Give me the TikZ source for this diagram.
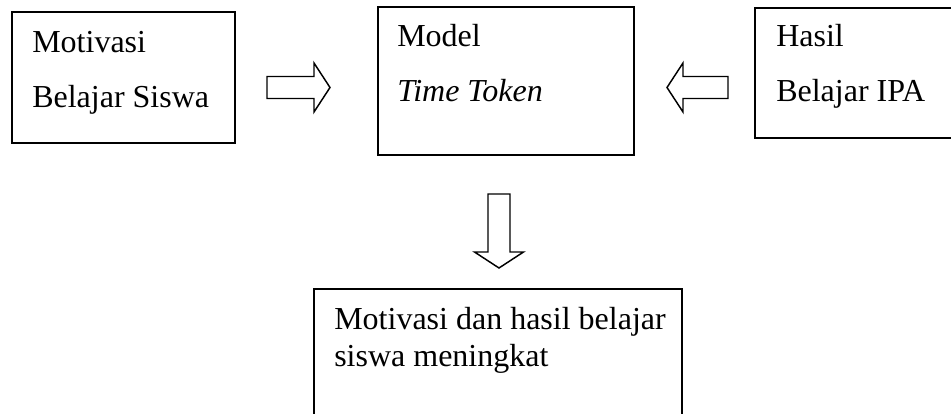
\documentclass[tikz,border=0pt]{standalone}
\usepackage{fontspec}
\setmainfont{Liberation Serif}
\usetikzlibrary{calc}

\tikzset{
  box/.style={draw, line width=1.5pt, inner sep=0pt},
  boxtext/.style={anchor=base west, align=left, inner sep=0pt, font=\fontsize{24}{41.25}\selectfont},
  arrowline/.style={line width=1.1pt, line join=miter},
  pics/blockarrow/.style={code={
    \draw[arrowline] (-#1,-11) -- (#1-16,-11) -- (#1-16,-24.5) -- (#1,0)
      -- (#1-16,24.5) -- (#1-16,11) -- (-#1,11) -- cycle;
  }}
}

\begin{document}
\begin{tikzpicture}[x=0.75pt, y=-0.75pt]
	\useasboundingbox (0,0) rectangle (951,414);
	\clip (0,0) rectangle (951,414);

	%boxes
	\node[box, minimum width=167.25pt, minimum height=98.25pt] (motiv) at (123.5,77.5) {};
	\node[box, minimum width=192pt, minimum height=111pt]      (model) at (506,81) {};
	\node[box, minimum width=180pt, minimum height=97.5pt]     (hasil) at (875,73) {};
	\node[box, minimum width=276pt, minimum height=113.25pt]   (naik)  at (498,364.5) {};

	%texts (base anchor sits on the last line)
	\node[boxtext] (motivtxt) at ($(motiv.north west)+(21,96)$) {Motivasi\\Belajar Siswa};
	\node[boxtext] (modeltxt) at ($(model.north west)+(20,95)$) {Model\\\textit{Time Token}};
	\node[boxtext] (hasiltxt) at ($(hasil.north west)+(22,94)$) {Hasil\\Belajar IPA};
	\node[boxtext, font=\fontsize{24}{27.6}\selectfont] (naiktxt) at ($(naik.north west)+(21,78)$)
		{Motivasi dan hasil belajar\\siswa meningkat};

	%arrows between the boxes
	\coordinate (a1) at ($(motiv.east)+(62.5,10)$);
	\coordinate (a2) at ($(hasil.west)+(-56.5,14.5)$);
	\coordinate (a3) at ($(model.south)+(-7,75)$);
	\pic at (a1) {blockarrow=31.5};
	\pic[rotate=180] at (a2) {blockarrow=30.5};
	\pic[rotate=-90] at (a3) {blockarrow=37};
\end{tikzpicture}
\end{document}
